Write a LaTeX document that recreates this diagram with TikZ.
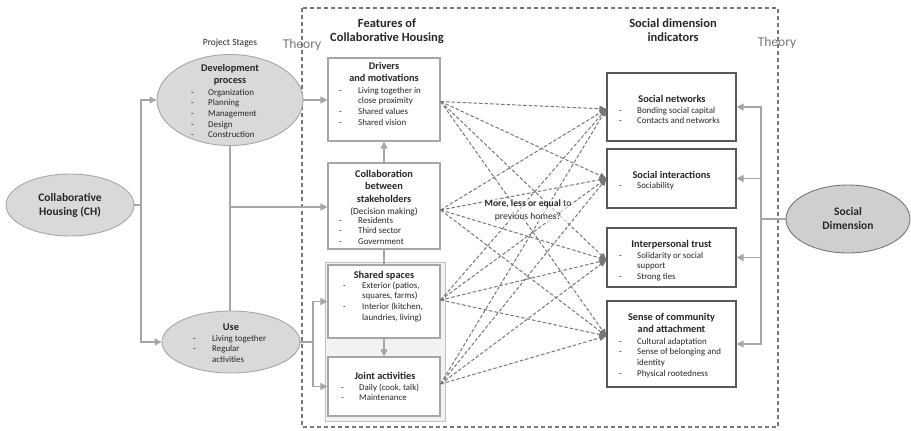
\documentclass[tikz,border=0pt]{standalone}
\usepackage{fontspec}
\setmainfont{Carlito}
\usetikzlibrary{arrows.meta,shapes.geometric,calc}
\definecolor{cgray}{HTML}{A6A6A6}
\definecolor{dgray}{HTML}{777777}
\definecolor{bdark}{HTML}{595959}
\definecolor{efill}{HTML}{D9D9D9}
\definecolor{sdfill}{HTML}{CFCFCF}
\definecolor{panel}{HTML}{F2F2F2}
\definecolor{ttxt}{HTML}{262626}
\newlength\dw
\newcommand{\IT}[1]{\makebox[\dw][l]{-}#1}
\newcommand{\IC}[1]{\hspace*{\dw}#1}
\begin{document}
\begin{tikzpicture}[x=1pt,y=-1pt,
  every node/.style={text=ttxt},
  ell/.style={ellipse, draw=cgray, fill=efill, line width=0.9pt, inner sep=0pt},
  fbox/.style={rectangle, draw=cgray, fill=white, line width=1.2pt, inner sep=0pt},
  sbox/.style={rectangle, draw=bdark, fill=white, line width=1.2pt, inner sep=0pt},
  conn/.style={draw=cgray, line width=1.1pt},
  arr/.style={conn, -{Triangle[length=7pt,width=7pt]}},
  dar/.style={draw=dgray, line width=1pt, dash pattern=on 3.5pt off 2pt, -{Triangle[length=7pt,width=6pt]}},
  ttl/.style={anchor=north, inner sep=0pt, font=\bfseries\fontsize{10.3}{12}\selectfont},
  itm/.style={anchor=north west, inner sep=0pt, font=\fontsize{8.9}{10.6}\selectfont},
  hdr/.style={anchor=north, inner sep=0pt, font=\bfseries\fontsize{12.5}{14}\selectfont},
  theory/.style={inner sep=0pt, text=dgray, font=\fontsize{13.5}{15}\selectfont}
]
\useasboundingbox (0,0) rectangle (911,431);

% outer dashed frame
\draw[draw=dgray, line width=1.1pt, dash pattern=on 4pt off 3pt] (302,8) rectangle (778,427);

% headers
\node[theory] (th1) at (302,45) {Theory};
\node[theory] (th2) at (777,43) {Theory};
\node[inner sep=0pt, font=\fontsize{9.5}{11}\selectfont] (ps) at (230,43) {Project Stages};
\node[hdr] (h1) at (387,17.6) {\begin{tabular}{@{}c@{}}Features of\\Collaborative Housing\end{tabular}};
\node[hdr] (h2) at (673,17.6) {\begin{tabular}{@{}c@{}}Social dimension\\indicators\end{tabular}};

% ellipses
\node[ell, minimum width=128pt, minimum height=62pt, align=center,
      font=\bfseries\fontsize{11.5}{14}\selectfont] (ch) at (70,205) {Collaborative\\Housing (CH)};
\node[ell, minimum width=146pt, minimum height=91pt] (dev) at (230,100) {};
\node[ell, minimum width=138pt, minimum height=62pt] (use) at (231,342) {};
\node[ell, draw=dgray, fill=sdfill, minimum width=124pt, minimum height=68pt, align=center,
      font=\bfseries\fontsize{11.5}{14}\selectfont] (sd) at (848,219) {Social\\Dimension};

\node[ttl] (devt) at (230,63.3) {\begin{tabular}{@{}c@{}}Development\\process\end{tabular}};
\node[itm] (devi) at (191,87.6) {\setlength\dw{17pt}\begin{tabular}{@{}l@{}}\IT{Organization}\\\IT{Planning}\\\IT{Management}\\\IT{Design}\\\IT{Construction}\end{tabular}};
\node[ttl] (uset) at (231,322.3) {\begin{tabular}{@{}c@{}}Use\end{tabular}};
\node[itm] (usei) at (193,333.6) {\setlength\dw{19pt}\begin{tabular}{@{}l@{}}\IT{Living together}\\\IT{Regular}\\\IC{activities}\end{tabular}};

% feature panel
\node[rectangle, draw=cgray!70, fill=panel, line width=1pt, minimum width=120pt, minimum height=159pt] (panel) at (385,341.5) {};

% feature boxes
\node[fbox, minimum width=112pt, minimum height=83pt] (drv) at (384,99.5) {};
\node[fbox, minimum width=112pt, minimum height=86pt] (col) at (384,206) {};
\node[fbox, minimum width=112pt, minimum height=73pt] (shs) at (384,301.5) {};
\node[fbox, minimum width=112pt, minimum height=59pt] (joi) at (384,386.5) {};

\node[ttl] (drvt) at (384,61.3) {\begin{tabular}{@{}c@{}}Drivers\\and motivations\end{tabular}};
\node[itm] (drvi) at (339,85.6) {\setlength\dw{19pt}\begin{tabular}{@{}l@{}}\IT{Living together in}\\\IC{close proximity}\\\IT{Shared values}\\\IT{Shared vision}\end{tabular}};
\node[ttl, font=\bfseries\fontsize{10.3}{12.6}\selectfont] (colt) at (384,168) {\begin{tabular}{@{}c@{}}Collaboration\\between\\stakeholders\\\mdseries\fontsize{9.3}{12.6}\selectfont(Decision making)\end{tabular}};
\node[itm] (coli) at (339,215.6) {\setlength\dw{19pt}\begin{tabular}{@{}l@{}}\IT{Residents}\\\IT{Third sector}\\\IT{Government}\end{tabular}};
\node[ttl] (shst) at (384,270.3) {\begin{tabular}{@{}c@{}}Shared spaces\end{tabular}};
\node[itm] (shsi) at (343,280.6) {\setlength\dw{19pt}\begin{tabular}{@{}l@{}}\IT{Exterior (patios,}\\\IC{squares, farms)}\\\IT{Interior (kitchen,}\\\IC{laundries, living)}\end{tabular}};
\node[ttl] (joit) at (385,371.3) {\begin{tabular}{@{}c@{}}Joint activities\end{tabular}};
\node[itm] (joii) at (341,382.6) {\setlength\dw{18pt}\begin{tabular}{@{}l@{}}\IT{Daily (cook, talk)}\\\IT{Maintenance}\end{tabular}};

% social dimension boxes
\node[sbox, minimum width=129pt, minimum height=68pt] (sn) at (671.5,107) {};
\node[sbox, minimum width=129pt, minimum height=59pt] (si) at (671.5,178.5) {};
\node[sbox, minimum width=129pt, minimum height=59pt] (it) at (671.5,257.5) {};
\node[sbox, minimum width=129pt, minimum height=86pt] (sc) at (671.5,344) {};

\node[ttl] (snt) at (672,94.3) {\begin{tabular}{@{}c@{}}Social networks\end{tabular}};
\node[itm] (sni) at (619,105.6) {\setlength\dw{18pt}\begin{tabular}{@{}l@{}}\IT{Bonding social capital}\\\IT{Contacts and networks}\end{tabular}};
\node[ttl] (sit) at (671.5,170.3) {\begin{tabular}{@{}c@{}}Social interactions\end{tabular}};
\node[itm] (sii) at (619,180.6) {\setlength\dw{18pt}\begin{tabular}{@{}l@{}}\IT{Sociability}\end{tabular}};
\node[ttl] (itt) at (671.5,239.3) {\begin{tabular}{@{}c@{}}Interpersonal trust\end{tabular}};
\node[itm] (iti) at (619,250.6) {\setlength\dw{18pt}\begin{tabular}{@{}l@{}}\IT{Solidarity or social}\\\IC{support}\\\IT{Strong ties}\end{tabular}};
\node[ttl] (sct) at (671.5,312.3) {\begin{tabular}{@{}c@{}}Sense of community\\and attachment\end{tabular}};
\node[itm] (sci) at (619,336.6) {\setlength\dw{18pt}\begin{tabular}{@{}l@{}}\IT{Cultural adaptation}\\\IT{Sense of belonging and}\\\IC{identity}\\\IT{Physical rootedness}\end{tabular}};

% solid connectors
\coordinate (j1) at (141,205);
\draw[conn] (ch.east) -- (j1);
\draw[arr] (j1) |- (dev.west);
\draw[arr] (j1) |- (use.west);
\draw[arr] (dev.east) -- (dev.east -| drv.west);
\draw[conn] (dev.south) -- (dev.south |- use.north);
\coordinate (j2) at (230,207);
\draw[arr] (j2) -- (j2 -| col.west);
\coordinate (j3) at (313,342);
\draw[conn] (use.east) -- (j3);
\draw[arr] (j3) |- (shs.west);
\draw[arr] (j3) |- (joi.west);
\draw[arr] (col.north) -- (drv.south);
\draw[conn] (shs.north) -- (col.south);
\draw[arr] (shs.south) -- (joi.north);
\coordinate (j4) at (761,219);
\draw[conn] (sd.west) -- (j4);
\draw[arr] (j4) |- (sn.east);
\draw[arr] (j4) |- (si.east);
\draw[arr] (j4) |- (it.east);
\draw[arr] (j4) |- (sc.east);

% dashed arrows
\foreach \s/\ys in {drv/-2pt, col/-4pt, shs/1.5pt, joi/2.5pt}
  \foreach \t/\yt in {sn/-2pt, si/0pt, it/-2.5pt, sc/8pt}
    \draw[dar] ([yshift=\ys]\s.east) -- ([yshift=\yt]\t.west);

\node[fill=white, fill opacity=0.55, text opacity=1, inner sep=1pt,
      font=\fontsize{9.6}{13}\selectfont, align=center] (q) at (528,210.5)
  {\textbf{More, less or equal} to\\previous homes?};
\end{tikzpicture}
\end{document}
